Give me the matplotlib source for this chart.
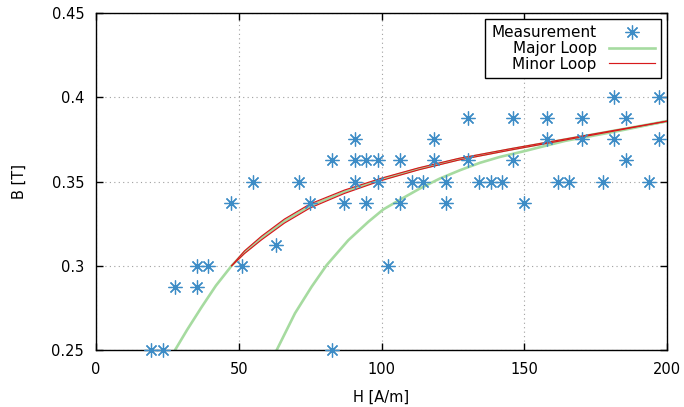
import matplotlib
matplotlib.use("Agg")
import matplotlib.pyplot as plt
from matplotlib.ticker import FuncFormatter

# ---- data ----
meas_H = [19.3, 23.6, 27.7, 35.3, 35.3, 39.3, 51.3, 63.0, 47.3, 55.1,
          71.1, 75.0, 82.8, 82.8, 86.9, 90.7, 90.7, 90.7, 94.6, 94.6,
          98.7, 98.7, 102.4, 106.5, 106.5, 110.6, 114.6, 118.4, 118.4, 122.5,
          122.5, 130.4, 130.4, 134.2, 138.2, 142.3, 146.0, 146.0, 150.0, 158.1,
          158.1, 161.9, 165.8, 170.1, 170.1, 177.7, 181.5, 181.5, 185.5, 185.5,
          193.7, 197.3, 197.3]
meas_B = [0.25, 0.25, 0.2875, 0.2875, 0.30, 0.30, 0.30, 0.3125, 0.3375, 0.35,
          0.35, 0.3375, 0.3625, 0.25, 0.3375, 0.375, 0.3625, 0.35, 0.3625, 0.3375,
          0.3625, 0.35, 0.30, 0.3625, 0.3375, 0.35, 0.35, 0.375, 0.3625, 0.35,
          0.3375, 0.3875, 0.3625, 0.35, 0.35, 0.35, 0.3875, 0.3625, 0.3375, 0.3875,
          0.375, 0.35, 0.35, 0.3875, 0.375, 0.35, 0.40, 0.375, 0.3875, 0.3625,
          0.35, 0.40, 0.375]

major_up_H = [27.7, 32.0, 37.0, 42.0, 47.5, 52.0, 58.0, 66.0, 75.0, 87.0,
              100.0, 113.0, 127.0, 145.0, 163.0, 181.0, 200.0]
major_up_B = [0.25, 0.2622, 0.2755, 0.2882, 0.300, 0.308, 0.3165, 0.3265, 0.3355, 0.3439,
              0.3513, 0.3575, 0.3632, 0.3690, 0.3745, 0.3800, 0.3858]

major_dn_H = [63.3, 69.7, 75.5, 80.8, 88.4, 95.4, 100.6, 106.5, 113.5, 120.5,
              127.5, 134.5, 141.5, 150.0, 164.3, 181.2, 200.0]
major_dn_B = [0.25, 0.2718, 0.2875, 0.3004, 0.3152, 0.3261, 0.3334, 0.3392, 0.3459, 0.3518,
              0.3567, 0.3611, 0.3646, 0.3680, 0.3741, 0.3794, 0.3858]

minor_H = [47.5, 52.0, 58.0, 66.0, 75.0, 87.0, 100.0, 113.0, 127.0, 145.0,
           163.0, 181.0, 200.0]
minor_up_B = [0.300, 0.3088, 0.3176, 0.3277, 0.3367, 0.3449, 0.3520, 0.3581, 0.3637, 0.3694,
              0.3748, 0.3802, 0.3858]
minor_dn_B = [0.300, 0.3072, 0.3154, 0.3253, 0.3343, 0.3429, 0.3506, 0.3569, 0.3627, 0.3686,
              0.3742, 0.3798, 0.3858]

x_ticks = [0, 50, 100, 150, 200]
y_ticks = [0.25, 0.30, 0.35, 0.40, 0.45]

# ---- figure ----
plt.rcParams['font.family'] = ['DejaVu Sans']
plt.rcParams['font.size'] = 10.5

fig = plt.figure(figsize=(6.84, 4.07), dpi=100)
ax = fig.add_axes([96/684, 1 - 350/407, (667 - 96)/684, (350 - 13)/407])

blue = '#3d8cc6'
green = '#a6dba0'
red = '#d7191c'

ax.plot(major_up_H, major_up_B, color=green, lw=1.9, zorder=2)
ax.plot(major_dn_H, major_dn_B, color=green, lw=1.9, zorder=2, label='Major Loop')
ax.plot(minor_H, minor_up_B, color=red, lw=0.85, zorder=3, label='Minor Loop')
ax.plot(minor_H, minor_dn_B, color=red, lw=0.85, zorder=3)
ax.plot(meas_H, meas_B, linestyle='none', marker=(8, 2, 0), markersize=10,
        markeredgewidth=0.9, color=blue, markeredgecolor=blue, zorder=4,
        label='Measurement', clip_on=False)

ax.set_xlim(0, 200)
ax.set_ylim(0.25, 0.45)
ax.set_xticks(x_ticks)
ax.set_yticks(y_ticks)
ax.yaxis.set_major_formatter(FuncFormatter(lambda v, p: f"{v:g}"))
ax.tick_params(direction='in', length=5, width=1, top=True, right=True,
               labelsize=10.5, pad=8.5, colors='black')
ax.grid(True, linestyle=(0, (1, 3)), color='#a0a0a0', linewidth=0.8)
for s in ax.spines.values():
    s.set_linewidth(1.0)
    s.set_color('black')

ax.set_xlabel('H [A/m]', fontsize=10.5, labelpad=9)
ax.set_ylabel('B [T]', fontsize=10.5, labelpad=18)

handles, labels = ax.get_legend_handles_labels()
order = [labels.index('Measurement'), labels.index('Major Loop'), labels.index('Minor Loop')]
leg = ax.legend([handles[i] for i in order], [labels[i] for i in order],
                loc='upper right', markerfirst=False, fancybox=False,
                framealpha=1, edgecolor='black', fontsize=11,
                handlelength=3.0, handletextpad=0.8, labelspacing=0.05,
                borderpad=0.4, borderaxespad=0.4)
leg.get_frame().set_linewidth(1.0)

fig.savefig('out.png', dpi=100)
